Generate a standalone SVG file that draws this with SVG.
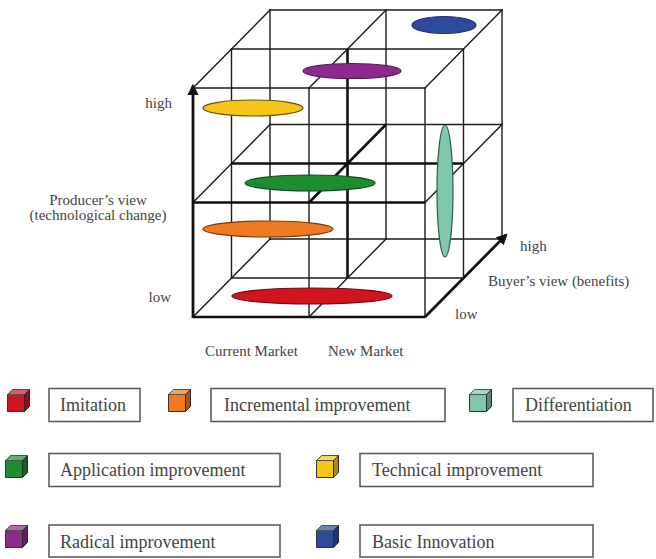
<svg xmlns="http://www.w3.org/2000/svg" width="656" height="559" viewBox="0 0 656 559">
  <style>
    .grid { stroke: #1c1c1c; stroke-width: 1.4; fill: none; stroke-linecap: square; }
    .bold { stroke: #111; stroke-width: 2.6; fill: none; }
    .axis { stroke: #111; stroke-width: 2.8; fill: none; }
    .lbl { font-family: "Liberation Serif", "Times New Roman", serif; font-size: 15px; fill: #444; }
    .leg { font-family: "Liberation Serif", "Times New Roman", serif; font-size: 18px; fill: #444; }
    .box { fill: #fff; stroke: #555; stroke-width: 1.5; }
    .blob { stroke-width: 1.2; }
  </style>
  <defs>
    <marker id="tip" viewBox="0 0 10 10" refX="8" refY="5" markerWidth="4" markerHeight="4" orient="auto" markerUnits="strokeWidth">
      <path d="M0,0 L10,5 L0,10 Z" fill="#111"/>
    </marker>
    <!-- shaded cube icon: colour comes from the "color" property -->
    <symbol id="cube" viewBox="0 0 23 23" overflow="visible">
      <path d="M0.5,5.5 H17.5 V22.5 H0.5 Z" fill="currentColor" stroke="#333" stroke-width="1"/>
      <path d="M0.5,5.5 L5.5,0.5 H22.5 L17.5,5.5 Z" fill="currentColor" stroke="#333" stroke-width="1"/>
      <path d="M0.5,5.5 L5.5,0.5 H22.5 L17.5,5.5 Z" fill="#fff" fill-opacity="0.3"/>
      <path d="M17.5,5.5 L22.5,0.5 V17.5 L17.5,22.5 Z" fill="currentColor" stroke="#333" stroke-width="1"/>
      <path d="M17.5,5.5 L22.5,0.5 V17.5 L17.5,22.5 Z" fill="#000" fill-opacity="0.3"/>
    </symbol>
  </defs>

  <!-- 2x2x2 lattice: x = 193+116i+38.5k, y = 317-114.5j-39k -->
  <g id="connectors">
    <g id="lattice">
      <!-- horizontal edges (per layer j, depth k) -->
      <path class="grid" d="M193,88 H425 M231.5,278 H463.5 M231.5,49 H463.5 M270,239 H502 M270,124.5 H502 M270,10 H502"/>
      <!-- vertical edges (per column i, depth k) -->
      <path class="grid" d="M309,317 V88 M425,317 V88 M231.5,278 V49 M463.5,278 V49 M270,239 V10 M386,239 V10 M502,239 V10"/>
      <!-- depth edges (per column i, layer j) -->
      <path class="grid" d="M193,317 L270,239 M193,202.5 L270,124.5 M193,88 L270,10 M309,317 L386,239 M309,88 L386,10 M425,202.5 L502,124.5 M425,88 L502,10"/>
      <!-- emphasised central cross and front axes -->
      <path class="bold" d="M193,202.5 H425 M231.5,163.5 H463.5 M347.5,278 V49 M309,202.5 L386,124.5 M193,317 H425"/>
    </g>
    <!-- Producer's view axis (vertical) -->
    <path id="axis-producer" class="axis" d="M193,318 V86" marker-end="url(#tip)"/>
    <!-- Buyer's view axis (depth) -->
    <path id="axis-buyer" class="axis" d="M425,317 L506,235" marker-end="url(#tip)"/>
  </g>

  <!-- innovation types placed in the lattice -->
  <g id="basic-innovation"><ellipse class="blob" cx="444" cy="25" rx="32" ry="8.5" fill="#2d4a9c" stroke="#1d2f6a"/></g>
  <g id="radical-improvement"><ellipse class="blob" cx="352" cy="71" rx="49" ry="7.5" fill="#8e2a8e" stroke="#5c1a5c"/></g>
  <g id="technical-improvement"><ellipse class="blob" cx="253" cy="108" rx="50" ry="8" fill="#f5c518" stroke="#6b5500"/></g>
  <g id="application-improvement"><ellipse class="blob" cx="310" cy="183" rx="65" ry="8" fill="#1e8c30" stroke="#0e4d18"/></g>
  <g id="incremental-improvement"><ellipse class="blob" cx="268" cy="229" rx="65" ry="8" fill="#f07a22" stroke="#7a3a08"/></g>
  <g id="imitation"><ellipse class="blob" cx="312" cy="296" rx="80" ry="8" fill="#d2141e" stroke="#700a10"/></g>
  <g id="differentiation"><ellipse class="blob" cx="445" cy="191" rx="8" ry="66" fill="#7fc9aa" stroke="#2f5a48"/></g>

  <!-- axis labels -->
  <g id="labels">
    <text class="lbl" x="172" y="108" text-anchor="end">high</text>
    <text class="lbl" x="171" y="302" text-anchor="end">low</text>
    <text class="lbl" x="98" y="205" text-anchor="middle">Producer’s view</text>
    <text class="lbl" x="98" y="220" text-anchor="middle">(technological change)</text>
    <text class="lbl" x="520" y="251">high</text>
    <text class="lbl" x="488" y="286">Buyer’s view (benefits)</text>
    <text class="lbl" x="455" y="319">low</text>
    <text class="lbl" x="205" y="356">Current Market</text>
    <text class="lbl" x="328" y="356">New Market</text>
  </g>

  <!-- legend -->
  <g id="legend">
    <g id="legend-imitation">
      <use href="#cube" x="7" y="389" width="23" height="23" style="color:#d2141e"/>
      <rect class="box" x="49" y="388.5" width="91" height="33"/>
      <text class="leg" x="60" y="411">Imitation</text>
    </g>
    <g id="legend-incremental">
      <use href="#cube" x="168" y="389" width="23" height="23" style="color:#f07a22"/>
      <rect class="box" x="211" y="388.5" width="234" height="33"/>
      <text class="leg" x="224" y="411">Incremental improvement</text>
    </g>
    <g id="legend-differentiation">
      <use href="#cube" x="469" y="389" width="23" height="23" style="color:#7fc9aa"/>
      <rect class="box" x="513" y="388.5" width="140" height="33"/>
      <text class="leg" x="525" y="411">Differentiation</text>
    </g>
    <g id="legend-application">
      <use href="#cube" x="5" y="455" width="23" height="23" style="color:#1e8c30"/>
      <rect class="box" x="49" y="453.5" width="231" height="33"/>
      <text class="leg" x="60" y="476">Application improvement</text>
    </g>
    <g id="legend-technical">
      <use href="#cube" x="316" y="455" width="23" height="23" style="color:#f5c518"/>
      <rect class="box" x="360" y="453.5" width="233" height="33"/>
      <text class="leg" x="372" y="476">Technical improvement</text>
    </g>
    <g id="legend-radical">
      <use href="#cube" x="5" y="525" width="23" height="23" style="color:#8e2a8e"/>
      <rect class="box" x="49" y="525" width="231" height="32"/>
      <text class="leg" x="60" y="548">Radical improvement</text>
    </g>
    <g id="legend-basic">
      <use href="#cube" x="316" y="525" width="23" height="23" style="color:#2d4a9c"/>
      <rect class="box" x="360" y="525" width="233" height="32"/>
      <text class="leg" x="372" y="548">Basic Innovation</text>
    </g>
  </g>
</svg>
